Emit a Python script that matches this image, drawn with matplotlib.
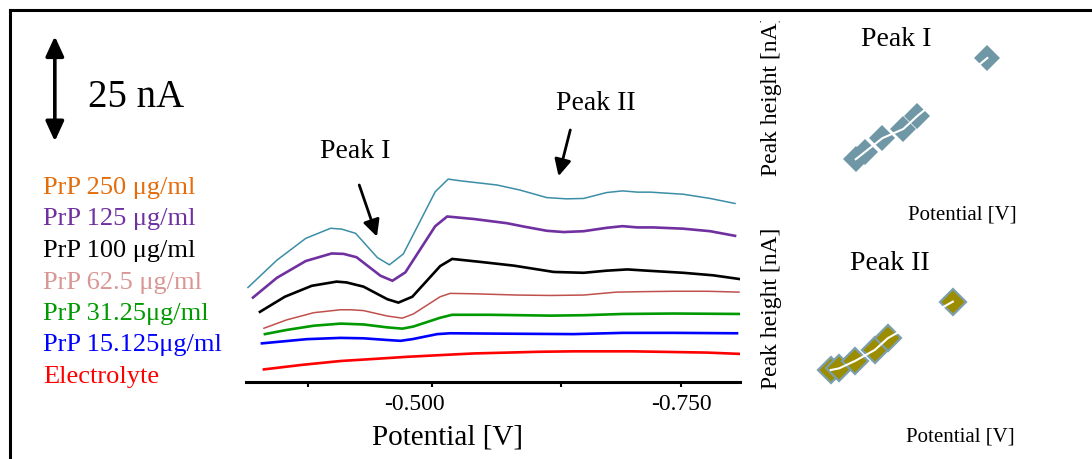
import matplotlib
matplotlib.use("Agg")
import matplotlib.pyplot as plt
from matplotlib.lines import Line2D
from matplotlib.transforms import Bbox, TransformedBbox, ScaledTranslation

plt.rcParams["font.family"] = ["Liberation Serif", "DejaVu Serif"]

# ── voltammograms: potential [V] / current [nA] (curves offset as in the figure) ──
V_250 = [-0.315, -0.344, -0.373, -0.398, -0.409, -0.423, -0.445, -0.457, -0.471,
         -0.503, -0.516, -0.528, -0.565, -0.588, -0.615, -0.635, -0.652, -0.675,
         -0.691, -0.706, -0.719, -0.752, -0.779, -0.804]
I_250 = [22.5, 29.0, 34.2, 36.6, 36.4, 35.4, 29.6, 27.9, 30.5,
         45.3, 48.3, 47.9, 46.9, 45.7, 43.9, 43.6, 43.7, 45.1,
         45.5, 45.2, 45.2, 44.7, 43.7, 42.5]

V_125 = [-0.320, -0.344, -0.373, -0.399, -0.411, -0.424, -0.448, -0.460, -0.473,
         -0.503, -0.515, -0.542, -0.575, -0.592, -0.615, -0.632, -0.652, -0.675,
         -0.691, -0.706, -0.722, -0.752, -0.779, -0.804]
I_125 = [20.1, 24.8, 28.8, 30.6, 30.5, 29.7, 25.3, 24.1, 26.1,
         37.1, 39.4, 38.8, 37.8, 37.0, 36.0, 35.7, 35.9, 36.7,
         37.1, 36.8, 36.8, 36.5, 35.9, 34.8]

V_100 = [-0.327, -0.352, -0.379, -0.404, -0.414, -0.431, -0.455, -0.466, -0.480,
         -0.508, -0.520, -0.548, -0.582, -0.622, -0.652, -0.675, -0.696, -0.716,
         -0.752, -0.782, -0.809]
I_100 = [16.7, 20.3, 22.9, 23.9, 23.7, 22.7, 19.7, 18.9, 20.3,
         27.6, 29.3, 28.6, 27.7, 26.2, 26.0, 26.5, 26.8, 26.5,
         26.0, 25.4, 24.5]

V_62 = [-0.331, -0.354, -0.381, -0.408, -0.418, -0.431, -0.455, -0.470, -0.481,
        -0.508, -0.518, -0.542, -0.585, -0.619, -0.652, -0.685, -0.709, -0.742,
        -0.776, -0.808]
I_62 = [12.8, 14.8, 16.5, 17.2, 17.2, 17.0, 15.7, 15.2, 16.2,
        20.3, 21.1, 21.0, 20.7, 20.6, 20.7, 21.4, 21.5, 21.6,
        21.6, 21.4]

V_31 = [-0.332, -0.354, -0.381, -0.408, -0.431, -0.455, -0.470, -0.481,
        -0.508, -0.520, -0.558, -0.619, -0.652, -0.692, -0.742, -0.809]
I_31 = [11.4, 12.4, 13.4, 13.9, 13.7, 13.0, 12.7, 13.2,
        15.3, 16.0, 16.0, 15.8, 15.9, 16.2, 16.3, 16.2]

V_15 = [-0.329, -0.374, -0.408, -0.431, -0.455, -0.468, -0.480,
        -0.505, -0.518, -0.575, -0.642, -0.692, -0.742, -0.806]
I_15 = [9.2, 10.2, 10.5, 10.4, 10.0, 9.8, 10.2,
        11.4, 11.6, 11.5, 11.4, 11.7, 11.7, 11.6]

V_el = [-0.331, -0.370, -0.408, -0.442, -0.475, -0.508, -0.542, -0.575,
        -0.608, -0.642, -0.675, -0.700, -0.726, -0.751, -0.776, -0.808]
I_el = [3.0, 4.1, 5.0, 5.5, 6.0, 6.4, 6.8, 7.0,
        7.2, 7.3, 7.3, 7.3, 7.2, 7.1, 7.0, 6.7]

CURVES = [
    (V_250, I_250, "#3b8ea5", 1.1),
    (V_125, I_125, "#7030a0", 1.9),
    (V_100, I_100, "black", 1.9),
    (V_62, I_62, "#c0504d", 1.1),
    (V_31, I_31, "#009a00", 1.9),
    (V_15, I_15, "#0000ff", 1.9),
    (V_el, I_el, "#ff0000", 1.9),
]

LEGEND_LABELS = ["PrP 250 μg/ml", "PrP 125 μg/ml", "PrP 100 μg/ml", "PrP 62.5 μg/ml",
                 "PrP 31.25μg/ml", "PrP 15.125μg/ml", "Electrolyte"]
LEGEND_COLORS = ["#e46c0a", "#7030a0", "black", "#d99694", "#009a00", "#0000ff", "#ff0000"]

# ── inset data: concentration [μg/ml] vs peak height [nA] ──
CONC = [15.125, 31.25, 62.5, 100, 125, 250]
PEAK1 = [4.0, 5.7, 9.0, 11.2, 14.3, 28.1]
PEAK2 = [3.8, 4.2, 6.0, 8.6, 11.4, 20.1]

TICKS = [-0.375, -0.500, -0.629, -0.750]
TICK_LABELS = ["", "-0.500", "", "-0.750"]

W, H = 1092, 459
fig = plt.figure(figsize=(W / 100, H / 100), dpi=100)


def fx(px):
    return px / W


def fy(py):
    return 1 - py / H


# main voltammogram axes
ax = fig.add_axes([fx(246), fy(382), fx(740) - fx(246), fy(30) - fy(382)])
for v, i, c, lw in CURVES:
    ax.plot(v, i, color=c, lw=lw, solid_joinstyle="miter")
ax.set_xlim(-0.313, -0.809)
ax.set_ylim(0, 83.8)
for s in ("left", "right", "top"):
    ax.spines[s].set_visible(False)
ax.spines["bottom"].set_linewidth(2.2)
ax.set_yticks([])
ax.set_xticks(TICKS)
ax.set_xticklabels(TICK_LABELS)
ax.tick_params(axis="x", direction="out", length=3.6, width=1.5, pad=5, labelsize=17)
# the -0.500 label sits left of its tick in the original
lbl = ax.get_xticklabels()[1]
lbl.set_transform(lbl.get_transform() + ScaledTranslation(-0.18, 0, fig.dpi_scale_trans))
ax.set_xlabel("Potential [V]", fontsize=21, va="top")
ax.xaxis.set_label_coords((448 - 246) / 494, -0.12)

# peak arrows
arr = dict(arrowstyle="-|>,head_length=1.0,head_width=0.5", lw=2, color="black",
           shrinkA=0, shrinkB=0)
ax.annotate("", xy=(-0.4445, 34.6), xytext=(-0.4267, 46.9), arrowprops=arr)
ax.text(-0.4227, 54.8, "Peak I", fontsize=20, ha="center", va="center")
ax.annotate("", xy=(-0.6268, 49.0), xytext=(-0.6386, 60.0), arrowprops=arr)
ax.text(-0.6647, 66.2, "Peak II", fontsize=20, ha="center", va="center")

# 25 nA scale bar
ax.annotate("", xy=(-0.387, 82.3), xytext=(-0.387, 57.3),
            xycoords=ax.get_yaxis_transform(), textcoords=ax.get_yaxis_transform(),
            arrowprops=dict(arrowstyle="<|-|>,head_length=1.2,head_width=0.55",
                            lw=2.6, color="black", shrinkA=0, shrinkB=0),
            annotation_clip=False)
fig.text(fx(88), fy(97), "25 nA", fontsize=28, va="center", ha="left")

# coloured legend text
for k, (lab, col) in enumerate(zip(LEGEND_LABELS, LEGEND_COLORS)):
    fig.text(fx(43), fy(194 + 31.5 * k), lab, color=col, fontsize=19,
             ha="left", va="baseline")


# ── insets ──
def inset(rect, xlim, ylim, y, face, edge, ew):
    a = fig.add_axes(rect)
    a.plot(CONC, y, ls="none", marker="D", ms=13.5, mfc=face, mec=edge, mew=ew)
    a.plot(CONC, y, color="white", lw=1.5)
    a.set_xlim(*xlim)
    a.set_ylim(*ylim)
    a.axis("off")
    return a


inset([fx(800), fy(190), fx(1040) - fx(800), fy(40) - fy(190)],
      (-84.5, 344.0), (-3.33, 32.38), PEAK1, "#6f97a5", "#6f97a5", 0.0)
inset([fx(800), fy(420), fx(1040) - fx(800), fy(250) - fy(420)],
      (-43.9, 417.6), (-8.1, 32.4), PEAK2, "#9c8d00", "#7c9fae", 1.6)

fig.text(fx(896), fy(40), "Peak I", fontsize=20, ha="center", va="center")
fig.text(fx(890), fy(263), "Peak II", fontsize=20, ha="center", va="center")
fig.text(fx(962), fy(215), "Potential [V]", fontsize=15, ha="center", va="center")
fig.text(fx(960), fy(437), "Potential [V]", fontsize=15, ha="center", va="center")

lab1 = fig.text(fx(771), fy(95), "Peak height [nA]", fontsize=17, rotation=90,
                ha="center", va="center")
lab1.set_clip_box(TransformedBbox(Bbox([[0, 0], [1, fy(21)]]), fig.transFigure))
lab1.set_clip_on(True)
lab2 = fig.text(fx(771), fy(308), "Peak height [nA]", fontsize=17, rotation=90,
                ha="center", va="center")

# frame lines (left and top only)
fig.add_artist(Line2D([fx(9.5), fx(9.5)], [0, fy(10)], color="black", lw=2.2,
                      transform=fig.transFigure))
fig.add_artist(Line2D([fx(9.5), 1], [fy(10), fy(10)], color="black", lw=2.2,
                      transform=fig.transFigure))

fig.savefig("out.png", dpi=100)
